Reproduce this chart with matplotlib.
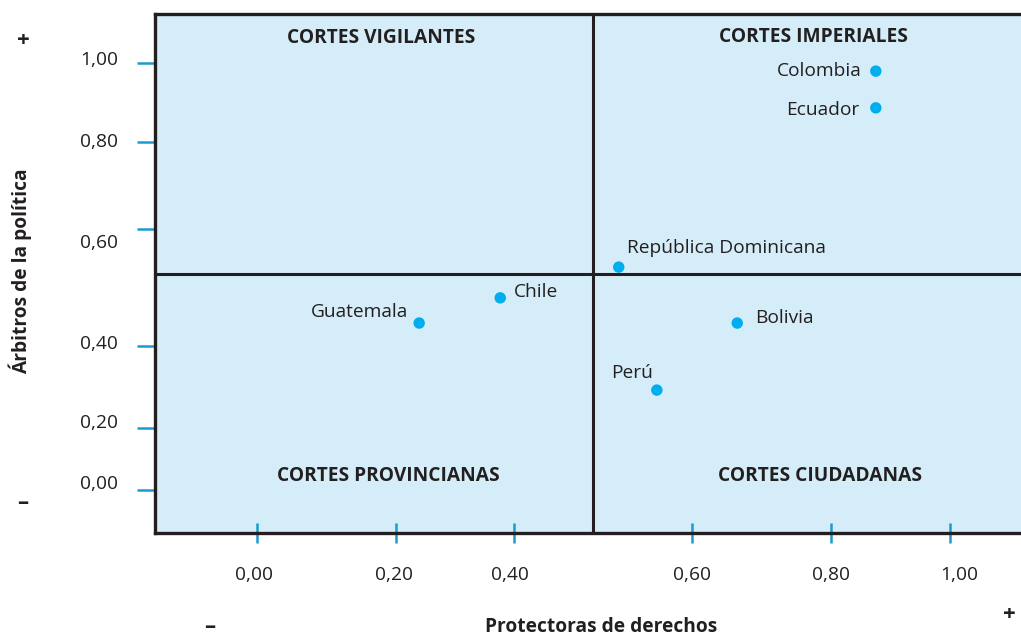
import numpy as np
import matplotlib.pyplot as plt

plt.rcParams['font.family'] = ['Open Sans', 'DejaVu Sans']

# data
countries = ["Colombia", "Ecuador", "República Dominicana", "Chile",
             "Guatemala", "Bolivia", "Perú"]
protectoras = [0.893, 0.893, 0.522, 0.351, 0.234, 0.693, 0.577]
arbitros = [0.981, 0.895, 0.522, 0.450, 0.391, 0.391, 0.234]

x_tick_labels = ["0,00", "0,20", "0,40", "0,60", "0,80", "1,00"]
y_tick_labels = ["1,00", "0,80", "0,60", "0,40", "0,20", "0,00"]

quadrants = ["CORTES VIGILANTES", "CORTES IMPERIALES",
             "CORTES PROVINCIANAS", "CORTES CIUDADANAS"]

# layout (the original's ticks are not evenly spaced)
x_tick_pos = [0.0, 0.2006, 0.371, 0.628, 0.828, 1.0]
x_label_pos = [-0.004, 0.198, 0.365, 0.628, 0.828, 1.014]
y_tick_pos = [1.0, 0.815, 0.611, 0.337, 0.145, 0.0]
y_label_pos = [1.007, 0.815, 0.578, 0.342, 0.157, 0.014]
x_split, y_split = 0.485, 0.506

label_offsets = {
    "Colombia": (-14, 0, "right"),
    "Ecuador": (-16, -2, "right"),
    "República Dominicana": (8, 19, "left"),
    "Chile": (14, 6, "left"),
    "Guatemala": (-11, 11, "right"),
    "Bolivia": (18, 5, "left"),
    "Perú": (-25, 17, "center"),
}

quad_pos = [(0.261, 0.954), (0.760, 0.956), (0.269, 0.110), (0.768, 0.110)]

tick_color = "#1a9bd0"
dot_color = "#00aeef"
bg_color = "#d5edf8"
dark = "#231f20"
fs = 13.8

fig = plt.figure(figsize=(10.21, 6.36), dpi=100)
ax = fig.add_axes([155 / 1021, 1 - 533 / 636, 866 / 1021, 519 / 636])
ax.set_facecolor(bg_color)
ax.set_xlim(-0.1472, 1.1025)
ax.set_ylim(-0.1007, 1.1148)

for side in ["left", "top", "bottom"]:
    ax.spines[side].set_linewidth(2.4)
    ax.spines[side].set_color(dark)
ax.spines["right"].set_visible(False)

ax.axvline(x_split, color=dark, lw=2.2)
ax.axhline(y_split, color=dark, lw=2.2)

ax.scatter(protectoras, arbitros, s=68, color=dot_color, zorder=3, edgecolors="none")

for name, x, y in zip(countries, protectoras, arbitros):
    dx, dy, ha = label_offsets[name]
    ax.annotate(name, (x, y), xytext=(dx, dy), textcoords="offset pixels",
                ha=ha, va="center", fontsize=fs, color=dark)

for text, (qx, qy) in zip(quadrants, quad_pos):
    ax.text(qx, qy, text, transform=ax.transAxes, ha="center", va="center",
            fontsize=fs, fontweight="bold", color=dark)

# ticks
ax.set_xticks(x_tick_pos)
ax.set_yticks(y_tick_pos)
ax.set_xticklabels([])
ax.set_yticklabels([])
ax.tick_params(axis="x", direction="inout", length=14, width=1.8, color=tick_color)
ax.tick_params(axis="y", direction="out", length=13, width=1.8, color=tick_color)

for lab, xp in zip(x_tick_labels, x_label_pos):
    ax.text(xp, -0.199, lab, ha="center", va="center", fontsize=fs,
            color=dark, clip_on=False)
for lab, yp in zip(y_tick_labels, y_label_pos):
    ax.text(-0.228, yp, lab, ha="center", va="center", fontsize=fs,
            color=dark, clip_on=False)

fig.text(601 / 1021, 1 - 627 / 636, "Protectoras de derechos", ha="center",
         va="center", fontsize=fs, fontweight="bold", color=dark)
fig.text(20 / 1021, 1 - 271 / 636, "Árbitros de la política", ha="center",
         va="center", rotation=90, fontsize=fs, fontweight="bold", color=dark)

for s, px, py in [("+", 23, 41), ("–", 23, 503), ("–", 210, 627), ("+", 1009, 614)]:
    fig.text(px / 1021, 1 - py / 636, s, ha="center", va="center",
             fontsize=16, fontweight="bold", color=dark)

fig.savefig("out.png", dpi=100)
